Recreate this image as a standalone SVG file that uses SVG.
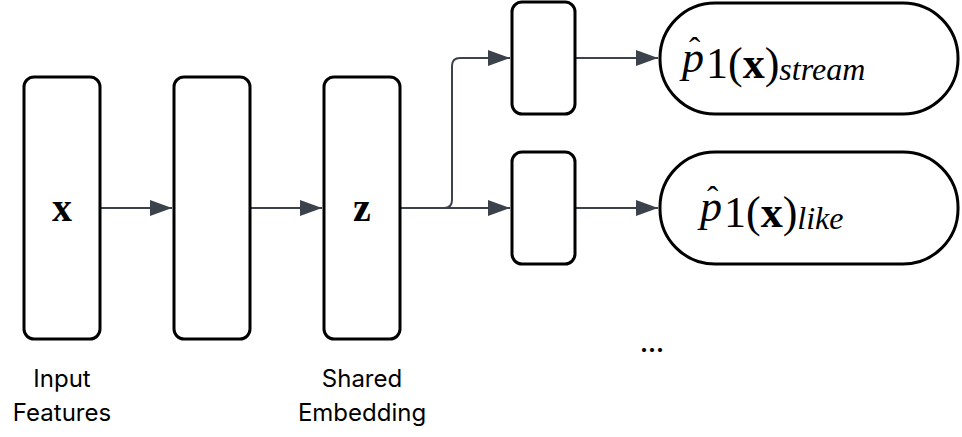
<svg xmlns="http://www.w3.org/2000/svg" width="962" height="437" viewBox="0 0 962 437">
<style>
.n{fill:#fff;stroke:#000;stroke-width:3}
.c{fill:none;stroke:#3b424c;stroke-width:2;marker-end:url(#a)}
.m{font-family:"Liberation Serif","DejaVu Serif",serif;fill:#000}
.l{font-family:Inter,"Liberation Sans",sans-serif;font-size:24px;fill:#000;text-anchor:middle}
</style>
<defs><marker id="a" viewBox="0 0 10 10" refX="10" refY="5" markerWidth="22" markerHeight="16" markerUnits="userSpaceOnUse" orient="auto" preserveAspectRatio="none"><path d="M0,0L10,5L0,10z" fill="#3b424c"/></marker></defs>
<g id="connectors">
<path class="c" d="M100,208H172"/>
<path class="c" d="M250,208H322"/>
<path class="c" d="M400,208H510"/>
<path class="c" d="M444,208Q452,208 452,200V66Q452,58 460,58H510"/>
<path class="c" d="M575,58H658"/>
<path class="c" d="M575,208H658"/>
</g>
<g id="input"><rect class="n" x="24" y="77" width="76" height="262" rx="10"/><text class="m" x="62" y="221" font-size="40" font-weight="bold" text-anchor="middle">x</text></g>
<g id="hidden"><rect class="n" x="174" y="77" width="76" height="262" rx="10"/></g>
<g id="embedding"><rect class="n" x="324" y="77" width="76" height="262" rx="10"/><text class="m" x="362" y="221" font-size="40" font-weight="bold" text-anchor="middle">z</text></g>
<g id="head1"><rect class="n" x="512" y="2" width="63" height="112" rx="10"/></g>
<g id="head2"><rect class="n" x="512" y="152" width="63" height="112" rx="10"/></g>
<g id="out1"><rect class="n" x="660" y="3" width="298" height="111" rx="55"/>
<text class="m" x="682" y="72" font-size="44" font-style="italic">p</text><text class="m" x="689" y="61" font-size="34">ˆ</text>
<text class="m" x="706" y="78" font-size="44">1(<tspan font-weight="bold">x</tspan>)<tspan font-style="italic" font-size="32" dy="2">stream</tspan></text></g>
<g id="out2"><rect class="n" x="660" y="152" width="298" height="112" rx="55"/>
<text class="m" x="700" y="221" font-size="44" font-style="italic">p</text><text class="m" x="707" y="210" font-size="34">ˆ</text>
<text class="m" x="724" y="227" font-size="44">1(<tspan font-weight="bold">x</tspan>)<tspan font-style="italic" font-size="32" dy="2">like</tspan></text></g>
<text class="l" x="652" y="352" font-size="28" font-weight="bold">...</text>
<text class="l" x="62" y="387">Input</text>
<text class="l" x="62" y="421">Features</text>
<text class="l" x="362" y="387">Shared</text>
<text class="l" x="362" y="421">Embedding</text>
</svg>
